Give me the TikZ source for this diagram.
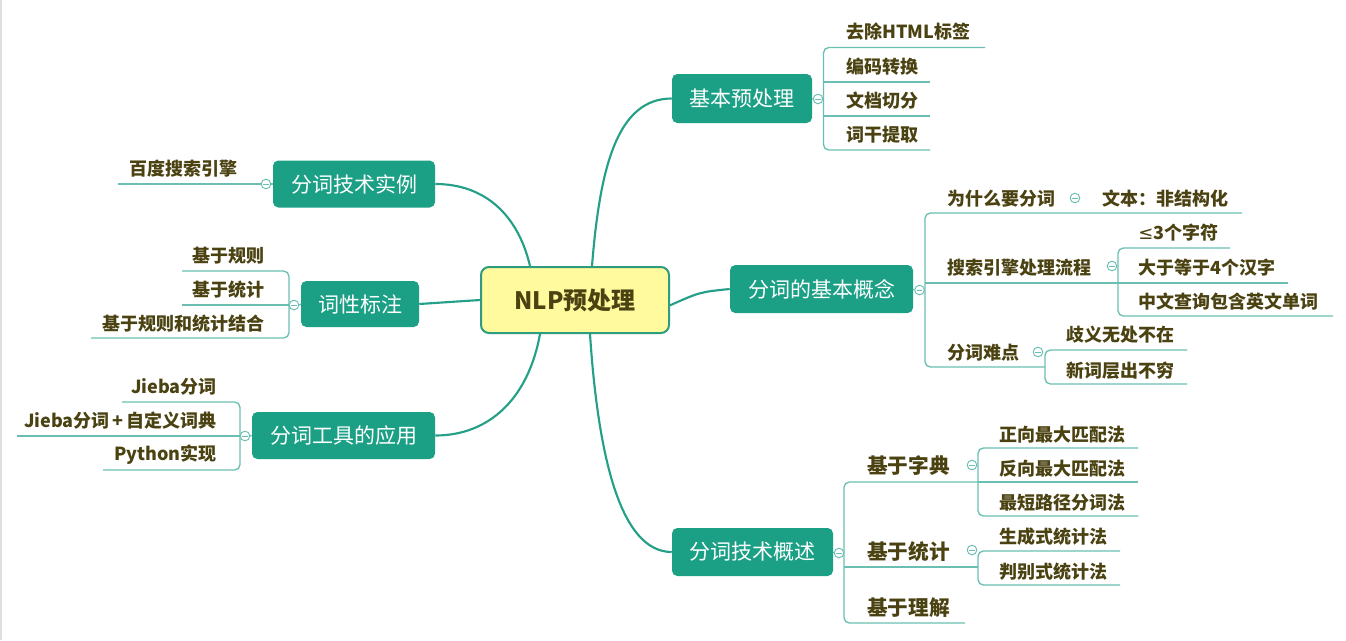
\documentclass[tikz,border=0pt]{standalone}
\usepackage{fontspec}
\setmainfont{Noto Sans CJK SC}
\newfontfamily\symfont{DejaVu Sans}
\definecolor{topicfill}{HTML}{1BA086}
\definecolor{centerfill}{HTML}{FFFA9E}
\definecolor{centerdraw}{HTML}{2E9C7E}
\definecolor{mainline}{HTML}{24A088}
\definecolor{subline}{HTML}{6ABFB2}
\definecolor{leaftext}{HTML}{4B4212}
\begin{document}
\begin{tikzpicture}[x=0.75pt,y={(0pt,-0.75pt)},
  topic/.style={rectangle, rounded corners=4pt, fill=topicfill, text=white, font=\fontsize{15.75}{18}\selectfont, inner sep=0pt},
  central/.style={rectangle, rounded corners=6pt, fill=centerfill, draw=centerdraw, line width=1.5pt, text=leaftext, font=\fontsize{18}{20}\selectfont\bfseries, inner sep=0pt},
  leaf/.style={text=leaftext, font=\fontsize{13.5}{15}\selectfont\bfseries, inner sep=0pt, anchor=west},
  leafl/.style={leaf, anchor=east},
  bigleaf/.style={leaf, font=\fontsize{15.5}{18}\selectfont\bfseries},
  mainc/.style={draw=mainline, line width=1.6pt},
  subc/.style={draw=subline, line width=1pt},
  bracket/.style={subc, rounded corners=4pt},
  knob/.style={circle, draw=subline, fill=white, minimum size=7.2pt, inner sep=0pt, line width=0.7pt,
    path picture={\draw[subline, line width=0.5pt] ([xshift=-1.9pt]path picture bounding box.center) -- ([xshift=1.9pt]path picture bounding box.center);}}
]
\useasboundingbox (0,0) rectangle (1346,640);
\fill[white] (0,0) rectangle (1346,640);
\draw[gray!25, line width=1.5pt] (1,0) -- (1,640);

% central and topics
\node[central, minimum width=141pt, minimum height=49.5pt] (c) at (575,300) {NLP预处理};
\node[topic, minimum width=105pt, minimum height=36.75pt] (tA) at (742,98.5) {基本预处理};
\node[topic, minimum width=137.25pt, minimum height=36pt] (tB) at (821.5,289) {分词的基本概念};
\node[topic, minimum width=120.75pt, minimum height=36pt] (tC) at (752.5,552) {分词技术概述};
\node[topic, minimum width=121.5pt, minimum height=35.25pt] (tD) at (354,184) {分词技术实例};
\node[topic, minimum width=88.5pt, minimum height=34.5pt] (tE) at (360,304) {词性标注};
\node[topic, minimum width=137.25pt, minimum height=35.25pt] (tF) at (343.5,435.5) {分词工具的应用};

% main connectors
\draw[mainc] ([xshift=12.75pt]c.north) .. controls (600,165) and (618,98.5) .. (tA.west);
\draw[mainc] ([yshift=-4pt]c.east) .. controls (700,292) .. (tB.west);
\draw[mainc] ([xshift=11.25pt]c.south) .. controls (598,455) and (620,552) .. (tC.west);
\draw[mainc] ([xshift=-33.75pt]c.north) .. controls (518,215) and (485,184) .. (tD.east);
\draw[mainc] (c.west) -- (tE.east);
\draw[mainc] ([xshift=-26.25pt]c.south) .. controls (528,400) and (488,435.5) .. (tF.east);

% ---------- branch A ----------
\node[knob] (kA) at (818,99) {};
\coordinate (vA) at (823.5,99);
\coordinate (uA1) at (985,47.5);
\coordinate (uA2) at (930,82);
\coordinate (uA3) at (930,116);
\coordinate (uA4) at (930,150);
\draw[subc] (tA.east) -- (kA.west);
\draw[subc] (kA.east) -- (vA);
\draw[bracket] (uA1) -- (uA1 -| vA) -- (uA4 -| vA) -- (uA4);
\draw[subc] (uA2 -| vA) -- (uA2);
\draw[subc] (uA3 -| vA) -- (uA3);
\node[leaf] at (846,32) {去除HTML标签};
\node[leaf] at (846,67) {编码转换};
\node[leaf] at (846,101) {文档切分};
\node[leaf] at (846,135) {词干提取};

% ---------- branch B ----------
\node[knob] (kB) at (919.5,290) {};
\coordinate (vB) at (925,290);
\coordinate (uB1) at (1242,213);
\coordinate (uB2) at (1118,283);
\coordinate (uB3) at (1045,367);
\draw[subc] (tB.east) -- (kB.west);
\draw[bracket] (uB1) -- (uB1 -| vB) -- (uB3 -| vB) -- (uB3);
\draw[subc] (uB2 -| vB) -- (uB2);
\node[leaf] at (947,199) {为什么要分词};
\node[knob] (kB1) at (1075,198) {};
\node[leaf] at (1102,199) {文本：非结构化};
\node[leaf] at (947,268) {搜索引擎处理流程};
\node[leaf] at (947,353) {分词难点};
% sub B2
\node[knob] (kB2) at (1112,266) {};
\coordinate (uB21) at (1230,248);
\coordinate (uB22) at (1288,283);
\coordinate (uB23) at (1333,316);
\draw[bracket] (uB21) -- (uB21 -| uB2) -- (uB23 -| uB2) -- (uB23);
\draw[subc] (uB2) -- (uB22);
\node[leaf] at (1138,233) {{\symfont\mdseries ≤}3个字符};
\node[leaf] at (1138,268) {大于等于4个汉字};
\node[leaf] at (1138,302) {中文查询包含英文单词};
% sub B3
\node[knob] (kB3) at (1038,352) {};
\coordinate (uB31) at (1187,350);
\coordinate (uB32) at (1187,384);
\draw[bracket] (uB31) -- (uB31 -| uB3) -- (uB32 -| uB3) -- (uB32);
\node[leaf] at (1066,335) {歧义无处不在};
\node[leaf] at (1066,371) {新词层出不穷};

% ---------- branch C ----------
\node[knob] (kC) at (839,553) {};
\coordinate (vC) at (844,553);
\coordinate (uC1) at (978,482);
\coordinate (uC2) at (978,567);
\coordinate (uC3) at (965,623);
\draw[subc] (tC.east) -- (kC.west);
\draw[bracket] (uC1) -- (uC1 -| vC) -- (uC3 -| vC) -- (uC3);
\draw[subc] (uC2 -| vC) -- (uC2);
\node[bigleaf] at (867,466) {基于字典};
\node[bigleaf] at (867,552) {基于统计};
\node[bigleaf] at (867,608) {基于理解};
% sub C1
\node[knob] (kC1) at (972,465) {};
\coordinate (uC11) at (1138,448);
\coordinate (uC12) at (1138,482);
\coordinate (uC13) at (1138,516);
\draw[bracket] (uC11) -- (uC11 -| uC1) -- (uC13 -| uC1) -- (uC13);
\draw[subc] (uC1) -- (uC12);
\node[leaf] at (999,435) {正向最大匹配法};
\node[leaf] at (999,469) {反向最大匹配法};
\node[leaf] at (999,503) {最短路径分词法};
% sub C2
\node[knob] (kC2) at (972,550) {};
\coordinate (uC21) at (1120,551);
\coordinate (uC22) at (1120,585);
\draw[bracket] (uC21) -- (uC21 -| uC2) -- (uC22 -| uC2) -- (uC22);
\node[leaf] at (999,537) {生成式统计法};
\node[leaf] at (999,572) {判别式统计法};

% ---------- branch D ----------
\node[knob] (kD) at (266,184) {};
\coordinate (uD1) at (118,184);
\draw[subc] (tD.west) -- (kD.east);
\draw[subc] (kD.west) -- (uD1);
\node[leafl] at (238,169) {百度搜索引擎};

% ---------- branch E ----------
\node[knob] (kE) at (294,305) {};
\coordinate (vE) at (289,305);
\coordinate (uE1) at (182,271);
\coordinate (uE2) at (182,305);
\coordinate (uE3) at (91,338);
\draw[subc] (tE.west) -- (kE.east);
\draw[bracket] (uE1) -- (uE1 -| vE) -- (uE3 -| vE) -- (uE3);
\draw[subc] (kE.west) -- (uE2);
\node[leafl] at (265,256) {基于规则};
\node[leafl] at (265,290) {基于统计};
\node[leafl] at (265,324) {基于规则和统计结合};

% ---------- branch F ----------
\node[knob] (kF) at (245,436) {};
\coordinate (vF) at (240,436);
\coordinate (uF1) at (122,402);
\coordinate (uF2) at (17,436);
\coordinate (uF3) at (103,470);
\draw[subc] (tF.west) -- (kF.east);
\draw[bracket] (uF1) -- (uF1 -| vF) -- (uF3 -| vF) -- (uF3);
\draw[subc] (kF.west) -- (uF2);
\node[leafl] at (217,387) {Jieba分词};
\node[leafl] at (217,421) {Jieba分词\,+\,自定义词典};
\node[leafl] at (217,455) {Python实现};
\end{tikzpicture}
\end{document}
